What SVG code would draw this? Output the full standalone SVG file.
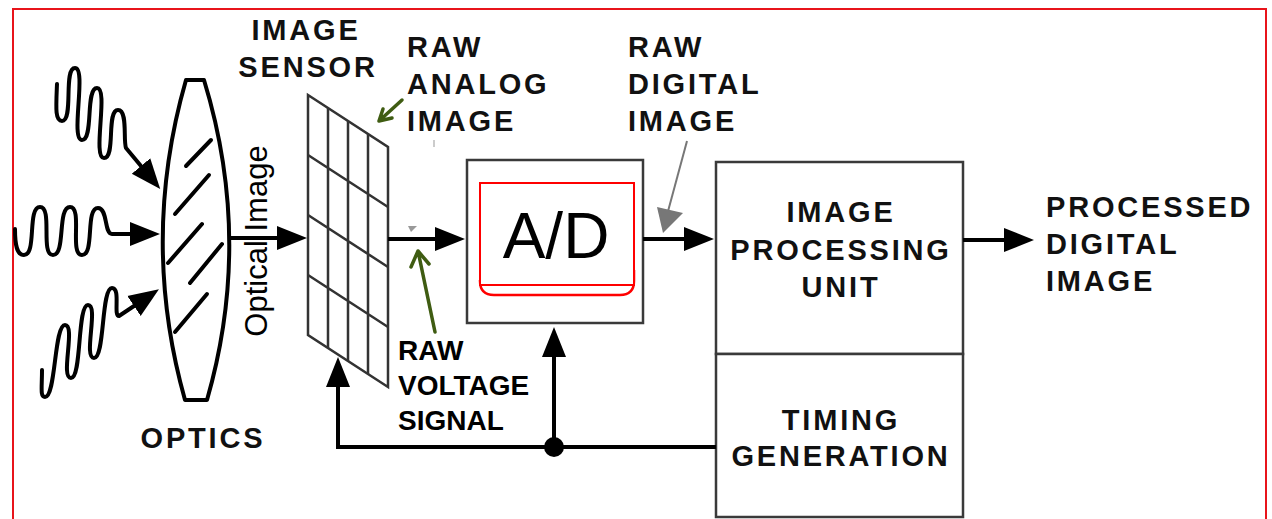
<svg xmlns="http://www.w3.org/2000/svg" width="1272" height="519" viewBox="0 0 1272 519">
  <style>
    .lbl { font-family: "Liberation Sans", Arial, sans-serif; font-weight: bold; font-size: 29px; letter-spacing: 2.8px; fill: #111; }
    .small { font-family: "Liberation Sans", Arial, sans-serif; font-weight: bold; font-size: 28px; fill: #000; }
    .box { fill: #fff; stroke: #3a3a3a; stroke-width: 2.5; }
    .wire { fill: none; stroke: #000; stroke-width: 4; }
    .ray { fill: none; stroke: #000; stroke-width: 4; stroke-linecap: round; stroke-linejoin: round; }
    .grid { fill: none; stroke: #333; stroke-width: 2.5; }
    .note { fill: none; stroke: #3f5c12; stroke-width: 3.5; stroke-linecap: round; }
  </style>
  <defs>
    <marker id="head" markerUnits="userSpaceOnUse" markerWidth="32" markerHeight="26" viewBox="0 -13 32 26" refX="0" refY="0" orient="auto">
      <path d="M0,-12 L30,0 L0,12 Z" fill="#000"/>
    </marker>
  </defs>

  <rect width="1272" height="519" fill="#fff"/>
  <!-- outer frame -->
  <rect id="frame" x="13" y="9" width="1253" height="530" fill="none" stroke="#e8141b" stroke-width="2"/>

  <!-- incoming light -->
  <g id="light">
    <path class="ray" d="M57,84 C56,108 55,121 62,121 C74,121 63,68 75,68 C87,68 70,140 82,140 C94,140 85,88 97,88 C109,88 92,158 104,158 C116,158 106,110 118,110 C128,110 123,140 126,148 L141,166" marker-end="url(#head)"/>
    <path class="ray" d="M15,229 C15,246 17,255 24,255 C37,255 27,207 40,207 C53,207 40,255 53,255 C66,255 57,207 70,207 C83,207 69,255 82,255 C95,255 85,208 98,208 C108,208 104,234 112,234 L130,234" marker-end="url(#head)"/>
    <path class="ray" d="M42,370 C42,388 40,397 45,397 C56,397 54,325 65,325 C76,325 60,378 71,378 C82,378 77,305 88,305 C99,305 83,358 94,358 C105,358 101,288 112,288 C121,288 113,316 119,316 L134,306" marker-end="url(#head)"/>
  </g>

  <!-- lens -->
  <g id="optics">
    <path d="M186,80 L204,80 Q253,240 207,400 L185,400 Q140,240 186,80 Z" fill="none" stroke="#000" stroke-width="4" stroke-linejoin="round"/>
    <g stroke="#000" stroke-width="4" stroke-linecap="round">
      <line x1="186" y1="166" x2="211" y2="140"/>
      <line x1="175" y1="214" x2="209" y2="175"/>
      <line x1="168" y1="263" x2="202" y2="224"/>
      <line x1="190" y1="283" x2="222" y2="244"/>
      <line x1="175" y1="332" x2="207" y2="294"/>
    </g>
    <text class="lbl" x="203" y="448" text-anchor="middle">OPTICS</text>
  </g>

  <text id="optical-image" transform="translate(267,241) rotate(-90)" text-anchor="middle" font-family="'Liberation Sans', Arial, sans-serif" font-size="31" fill="#000">Optical Image</text>

  <!-- image sensor -->
  <g id="sensor">
    <path class="grid" d="M308,95 L388,147 L388,387 L308,335 Z"/>
    <path class="grid" d="M328,108 V348 M348,121 V361 M368,134 V374 M308,155 L388,207 M308,215 L388,267 M308,275 L388,327"/>
    <text class="lbl" x="306" y="40" text-anchor="middle">IMAGE</text>
    <text class="lbl" x="308" y="77" text-anchor="middle">SENSOR</text>
  </g>

  <!-- analog to digital converter -->
  <g id="adc">
    <rect class="box" x="467" y="160" width="176" height="163"/>
    <path d="M480,280 L480,281 Q480,295 494,295 L620,295 Q634,295 634,281 L634,270" fill="none" stroke="#f00" stroke-width="2.5"/>
    <rect x="480" y="183" width="154" height="102" fill="#fff" stroke="#f00" stroke-width="2"/>
    <text x="556" y="258" text-anchor="middle" font-family="'Liberation Sans', Arial, sans-serif" font-size="64" fill="#000">A/D</text>
  </g>

  <!-- image processing unit -->
  <g id="ipu">
    <rect class="box" x="716" y="162" width="247" height="192"/>
    <text class="lbl" x="841" y="222" text-anchor="middle">IMAGE</text>
    <text class="lbl" x="841" y="260" text-anchor="middle">PROCESSING</text>
    <text class="lbl" x="841" y="297" text-anchor="middle">UNIT</text>
  </g>

  <!-- timing generation -->
  <g id="timing">
    <rect class="box" x="716" y="354" width="247" height="163"/>
    <text class="lbl" x="841" y="430" text-anchor="middle">TIMING</text>
    <text class="lbl" x="841" y="466" text-anchor="middle">GENERATION</text>
  </g>

  <!-- signal labels -->
  <g id="labels">
    <text class="lbl" x="407" y="57">RAW</text>
    <text class="lbl" x="407" y="94">ANALOG</text>
    <text class="lbl" x="407" y="131">IMAGE</text>
    <text class="lbl" x="628" y="57">RAW</text>
    <text class="lbl" x="628" y="94">DIGITAL</text>
    <text class="lbl" x="628" y="131">IMAGE</text>
    <text class="lbl" x="1046" y="217">PROCESSED</text>
    <text class="lbl" x="1046" y="254">DIGITAL</text>
    <text class="lbl" x="1046" y="291">IMAGE</text>
    <text class="small" x="398" y="360">RAW</text>
    <text class="small" x="398" y="395">VOLTAGE</text>
    <text class="small" x="398" y="430">SIGNAL</text>
  </g>

  <!-- connectors -->
  <g id="connectors">
    <line class="wire" x1="229" y1="238" x2="277" y2="238" marker-end="url(#head)"/>
    <line class="wire" x1="388" y1="239" x2="435" y2="239" marker-end="url(#head)"/>
    <line class="wire" x1="643" y1="239" x2="684" y2="239" marker-end="url(#head)"/>
    <line class="wire" x1="963" y1="240" x2="1004" y2="240" marker-end="url(#head)"/>
    <polyline class="wire" points="716,447 338,447 338,387" marker-end="url(#head)"/>
    <line class="wire" x1="554" y1="447" x2="554" y2="357" marker-end="url(#head)"/>
    <circle cx="554" cy="447" r="10" fill="#000"/>
    <!-- pointers -->
    <path class="note" d="M402,100 L379,121 M379,121 L392,118 M379,121 L383,109"/>
    <path class="note" d="M435,332 L418,251 M418,251 L411,267 M418,251 L429,264"/>
    <line x1="687" y1="141" x2="667" y2="215" stroke="#777" stroke-width="2"/>
    <path d="M657,207 L683,213 L663,233 Z" fill="#777"/>
    <path d="M408,226 L417,226 L411,232 Z" fill="#999"/>
    <line x1="434" y1="140" x2="434" y2="147" stroke="#bbb" stroke-width="1.5"/>
  </g>
</svg>
